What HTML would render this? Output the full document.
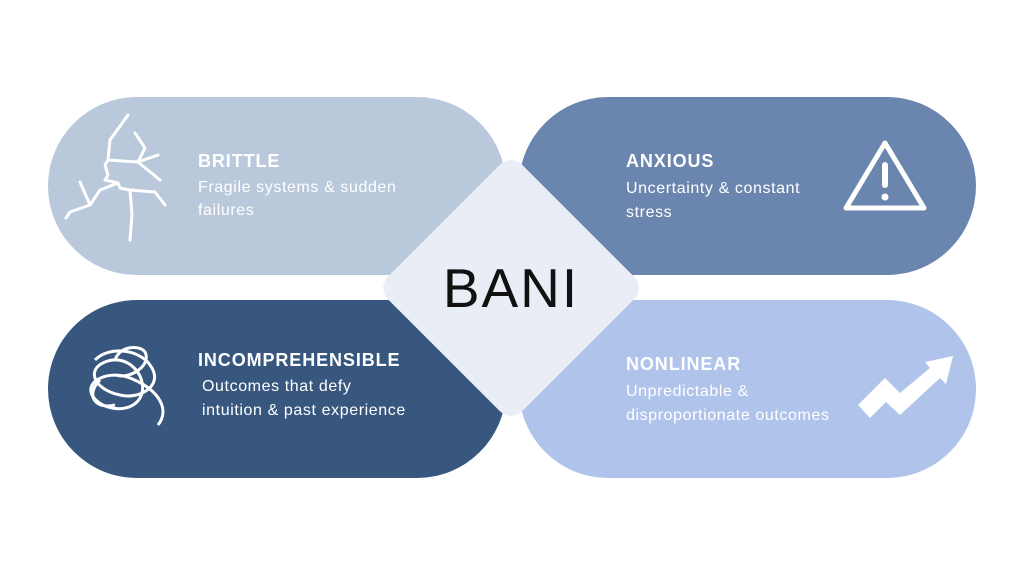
<!DOCTYPE html>
<html><head><style>
html,body{margin:0;padding:0;background:#fff;width:1024px;height:576px;overflow:hidden}
text{font-family:"Liberation Sans",sans-serif}
.t{font-size:18px;font-weight:bold;fill:#fff;letter-spacing:0.9px}
.d{font-size:16px;fill:#fff;letter-spacing:0.6px}
</style></head><body>
<svg width="1024" height="576" viewBox="0 0 1024 576">
<rect x="48" y="97" width="458" height="178" rx="89" fill="#bac8dc"/>
<rect x="519" y="97" width="457" height="178" rx="89" fill="#6a85ae"/>
<rect x="48" y="300" width="458" height="178" rx="89" fill="#38577f"/>
<rect x="519" y="300" width="457" height="178" rx="89" fill="#b0c3eb"/>
<rect x="416" y="193" width="190" height="190" rx="16" fill="#e9edf5" transform="rotate(45 511 288)"/>
<text x="511" y="307" text-anchor="middle" font-size="55" fill="#111" letter-spacing="2">BANI</text>

<g stroke="#fff" stroke-width="3" fill="none" stroke-linejoin="round" stroke-linecap="round">
<path d="M128 115 L110 140 L108 160 L105 165 L108 175 L105 180 L118 183 L120 188 L130 190 L132 215 L130 240"/>
<path d="M108 160 L138 162 L145 148 L135 133"/>
<path d="M138 162 L158 155"/>
<path d="M138 162 L160 180"/>
<path d="M130 190 L155 192 L165 205"/>
<path d="M118 183 L100 190 L90 205 L70 212 L66 218"/>
<path d="M90 205 L80 182"/>
</g>
<text x="198" y="167" class="t">BRITTLE</text>
<text x="198" y="192" class="d">Fragile systems &amp; sudden</text>
<text x="198" y="215" class="d">failures</text>

<text x="626" y="167" class="t">ANXIOUS</text>
<text x="626" y="193" class="d">Uncertainty &amp; constant</text>
<text x="626" y="217" class="d">stress</text>
<path d="M885 143 L924 208 L846 208 Z" fill="none" stroke="#fff" stroke-width="5" stroke-linejoin="round"/>
<rect x="882" y="162" width="6" height="26" rx="3" fill="#fff"/>
<circle cx="885" cy="197" r="3.5" fill="#fff"/>

<text x="198" y="366" class="t">INCOMPREHENSIBLE</text>
<text x="202" y="391" class="d">Outcomes that defy</text>
<text x="202" y="415" class="d">intuition &amp; past experience</text>
<g stroke="#fff" stroke-width="3" fill="none">
<path d="M95 360 C110 345 140 350 150 365 C165 385 140 400 120 395 C95 390 85 370 105 362 C130 352 150 380 140 398 C130 415 100 410 92 395 C85 380 110 370 130 378 C160 390 170 410 158 425 M115 360 C120 345 140 345 145 352 C152 365 130 380 115 375"/>
<path d="M100 380 C85 395 95 410 115 405"/>
</g>

<text x="626" y="370" class="t">NONLINEAR</text>
<text x="626" y="396" class="d">Unpredictable &amp;</text>
<text x="626" y="420" class="d">disproportionate outcomes</text>
<path d="M858 405 L885 378 L900 393 L930 368 L925 362 L953 356 L946 384 L940 378 L900 415 L886 402 L870 418 Z" fill="#fff"/>
</svg>
</body></html>
